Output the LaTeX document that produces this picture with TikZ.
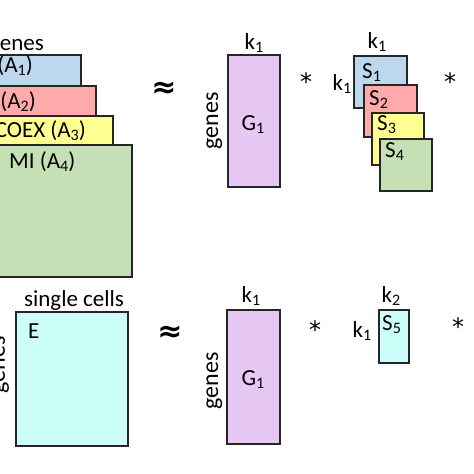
\documentclass[tikz,border=0pt]{standalone}
\usepackage{fontspec}
\setmainfont{Carlito}
\newfontfamily\signfont{DejaVu Sans}
\usepackage{tikz}
\usetikzlibrary{calc, positioning}

\definecolor{netblue}{RGB}{189,215,238}
\definecolor{netred}{RGB}{255,170,170}
\definecolor{netyellow}{RGB}{255,255,145}
\definecolor{netgreen}{RGB}{197,224,180}
\definecolor{genepurple}{RGB}{231,200,245}
\definecolor{cellcyan}{RGB}{204,255,250}

% chỉ số dưới
\newcommand{\subidx}[1]{\raisebox{-0.35ex}{\fontsize{16}{18}\selectfont #1}}

\begin{document}
\begin{tikzpicture}[x=1pt, y=-1pt,
    mat/.style={draw=black!85, line width=1.2pt},
    lbl/.style={inner sep=0pt, font=\fontsize{23}{27}\selectfont},
    side/.style={inner sep=0pt, font=\fontsize{24}{28}\selectfont, rotate=90, anchor=base},
    approxsign/.style={inner sep=0pt, font=\fontsize{30}{34}\signfont\bfseries},
    starsign/.style={inner sep=0pt, font=\fontsize{24}{28}\signfont}]
    \useasboundingbox (0,0) rectangle (474,474);
    \clip (0,0) rectangle (474,474);

    % Các ma trận mạng (A1 - A4)
    \draw[mat, fill=netblue]   (-60,55)  rectangle (81,200);
    \draw[mat, fill=netred]    (-60,86)  rectangle (96,220);
    \draw[mat, fill=netyellow] (-60,116) rectangle (113,240);
    \draw[mat, fill=netgreen]  (-60,145) rectangle (132,277);
    \node[lbl, anchor=base east] (genesA) at (44,50) {genes};
    \node[lbl, anchor=base east] (labA1) at (33,72) {(A\subidx{1})};
    \node[lbl, anchor=base east] (labA2) at (36,108) {(A\subidx{2})};
    \node[lbl, anchor=base east] (labA3) at (86,137) {COEX (A\subidx{3})};
    \node[lbl, anchor=base west] (labA4) at (9,168) {MI (A\subidx{4})};
    \node[approxsign] (eqA) at (164,90) {≈};

    % G1 và các ma trận S1 - S4
    \draw[mat, fill=genepurple] (228,55) rectangle (280,187);
    \node[lbl, anchor=base] (kG) at (254,49) {k\subidx{1}};
    \node[side] (genesG) at (218,121) {genes};
    \node[lbl, anchor=base] (labG) at (253,130) {G\subidx{1}};
    \node[starsign] (starA) at (306,82) {*};

    \draw[mat, fill=netblue]   (354,56)  rectangle (407,108);
    \draw[mat, fill=netred]    (364,85)  rectangle (417,137);
    \draw[mat, fill=netyellow] (372,113) rectangle (424,165);
    \draw[mat, fill=netgreen]  (380,139) rectangle (432,191);
    \node[lbl, anchor=north west] (labS1) at (362,63) {S\subidx{1}};
    \node[lbl, anchor=north west] (labS2) at (369,90) {S\subidx{2}};
    \node[lbl, anchor=north west] (labS3) at (377,115) {S\subidx{3}};
    \node[lbl, anchor=north west] (labS4) at (385,142) {S\subidx{4}};
    \node[lbl, anchor=base] (kS) at (377,48) {k\subidx{1}};
    \node[lbl, anchor=base] (kSside) at (342,90) {k\subidx{1}};
    \node[starsign] (starB) at (450,82) {*};

    % Ma trận biểu hiện E
    \draw[mat, fill=cellcyan] (16,312) rectangle (128,446);
    \node[lbl, anchor=base] (cells) at (74,306) {single cells};
    \node[side] (genesE) at (5,365) {genes};
    \node[lbl, anchor=north west] (labE) at (28,324) {E};
    \node[approxsign] (eqE) at (170,334) {≈};

    % G1 và S5
    \draw[mat, fill=genepurple] (227,310) rectangle (280,444);
    \node[lbl, anchor=base] (kG2) at (251,302) {k\subidx{1}};
    \node[side] (genesG2) at (218,381) {genes};
    \node[lbl, anchor=base] (labG2) at (253,385) {G\subidx{1}};
    \node[starsign] (starC) at (315,330) {*};

    \draw[mat, fill=cellcyan] (379,310) rectangle (409,363);
    \node[lbl, anchor=north west] (labS5) at (382,315) {S\subidx{5}};
    \node[lbl, anchor=base] (kS5) at (391,302) {k\subidx{2}};
    \node[lbl, anchor=base] (kS5side) at (362,337) {k\subidx{1}};
    \node[starsign] (starD) at (458,327) {*};
\end{tikzpicture}
\end{document}
